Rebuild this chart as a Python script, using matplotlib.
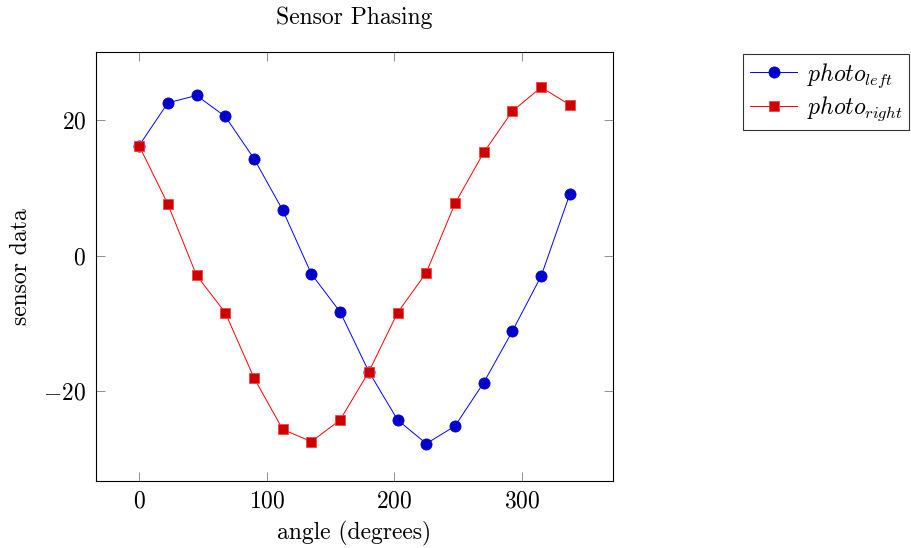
import matplotlib
matplotlib.use("Agg")
import matplotlib.pyplot as plt

# Computer Modern look, like the LaTeX/pgfplots original
plt.rcParams['font.family'] = 'serif'
plt.rcParams['font.serif'] = ['cmr10']
plt.rcParams['mathtext.fontset'] = 'cm'
plt.rcParams['axes.formatter.use_mathtext'] = True

# Sensor readings every 22.5 degrees
angle = [0, 22.5, 45, 67.5, 90, 112.5, 135, 157.5,
         180, 202.5, 225, 247.5, 270, 292.5, 315, 337.5]
photo_left = [16.2, 22.5, 23.6, 20.5, 14.3, 6.7, -2.7, -8.3,
              -17.1, -24.2, -27.7, -25.1, -18.7, -11.1, -3.0, 9.1]
photo_right = [16.2, 7.6, -2.9, -8.4, -18.0, -25.6, -27.4, -24.2,
               -17.1, -8.4, -2.5, 7.7, 15.2, 21.3, 24.8, 22.2]

FS = 17

fig = plt.figure(figsize=(9.11, 5.48), dpi=100)
ax = fig.add_axes([96 / 911, 1 - 481 / 548, 517 / 911, 429 / 548])

ax.plot(angle, photo_left, color='#0000ff', lw=0.7, marker='o', markersize=8,
        markerfacecolor='#0000cc', markeredgecolor='#0000cc', markeredgewidth=0.6,
        label=r'$photo_{left}$')
ax.plot(angle, photo_right, color='#ff0000', lw=0.7, marker='s', markersize=7.5,
        markerfacecolor='#cc0000', markeredgecolor='#ff4040', markeredgewidth=0.6,
        label=r'$photo_{right}$')

ax.set_xlim(-33.75, 371.25)
ax.set_ylim(-33.2, 30.0)
ax.set_xticks([0, 100, 200, 300])
ax.set_yticks([-20, 0, 20])
ax.tick_params(direction='in', length=6.5, width=0.6, color='0.5',
               top=True, right=True, labelsize=FS, pad=7)
for s in ax.spines.values():
    s.set_linewidth(0.8)

ax.set_title('Sensor Phasing', fontsize=FS, pad=20)
ax.set_xlabel('angle (degrees)', fontsize=FS, labelpad=6)
ax.set_ylabel('sensor data', fontsize=FS, labelpad=8)

leg = fig.legend(loc='upper left', bbox_to_anchor=(743 / 911, 1 - 54 / 548),
                 bbox_transform=fig.transFigure, fontsize=FS, frameon=True,
                 fancybox=False, edgecolor='black', handlelength=2.0,
                 handletextpad=0.4, borderpad=0.3, labelspacing=0.2,
                 borderaxespad=0)
leg.get_frame().set_linewidth(0.8)

fig.savefig('out.png', dpi=100)
